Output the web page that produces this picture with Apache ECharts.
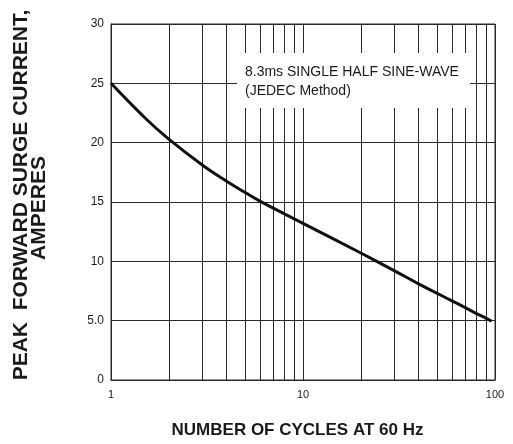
<!DOCTYPE html>
<html>
<head>
<meta charset="utf-8">
<script src="https://cdn.jsdelivr.net/npm/echarts@6/dist/echarts.min.js"></script>
<style>
html,body{margin:0;padding:0;background:#fff;}
#c{width:513px;height:444px;}
</style>
</head>
<body>
<div id="c"></div>
<script>
// Data
var cycles  = [1, 1.5, 2, 3, 4, 5, 6, 8, 10, 20, 30, 40, 50, 60, 70, 80, 90, 96];
var current = [25.0, 22.1, 20.3, 18.1, 16.75, 15.8, 15.05, 14.0, 13.2, 10.7, 9.2, 8.1, 7.3, 6.65, 6.1, 5.6, 5.2, 4.95];
var minorGridX = [2, 3, 4, 5, 6, 7, 8, 9, 20, 30, 40, 50, 60, 70, 80, 90];
var yTicks = [0, 5, 10, 15, 20, 25, 30];
var yTickLabels = ['0', '5.0', '10', '15', '20', '25', '30'];
var xTickLabels = {1: '1', 10: '10', 100: '100'};
var xTitle = 'NUMBER OF CYCLES AT 60 Hz';
var yTitle1 = 'PEAK  FORWARD SURGE CURRENT,';
var yTitle2 = 'AMPERES';
var noteLines = ['8.3ms SINGLE HALF SINE-WAVE', '(JEDEC Method)'];

var FONT = '"Liberation Sans", Arial, Helvetica, sans-serif';
var INK = '#1a1a1a';
var GRID = '#2a2a2a';

var chart = echarts.init(document.getElementById('c'), null, {renderer: 'canvas'});
chart.setOption({
  animation: false,
  backgroundColor: '#fff',
  grid: {left: 111, right: 18, top: 24, bottom: 64, show: true, borderColor: GRID, borderWidth: 1, backgroundColor: 'transparent'},
  xAxis: {
    type: 'log', logBase: 10, min: 1, max: 100,
    axisLine: {show: true, lineStyle: {color: GRID, width: 1}},
    axisTick: {show: false},
    axisLabel: {color: INK, fontSize: 11, fontFamily: FONT, margin: 9,
      formatter: function (v) { return xTickLabels[Math.round(v)] || ''; }},
    splitLine: {show: true, lineStyle: {color: GRID, width: 1}}
  },
  yAxis: {
    type: 'value', min: 0, max: 30, interval: 5,
    axisLine: {show: true, lineStyle: {color: GRID, width: 1}},
    axisTick: {show: false},
    axisLabel: {color: INK, fontSize: 12, fontFamily: FONT, margin: 7,
      formatter: function (v) { var i = yTicks.indexOf(v); return i >= 0 ? yTickLabels[i] : ''; }},
    splitLine: {show: true, lineStyle: {color: GRID, width: 1}}
  },
  series: [
    {
      type: 'line', data: [], z: 1, silent: true,
      markLine: {
        silent: true, symbol: ['none', 'none'], animation: false,
        label: {show: false},
        lineStyle: {color: GRID, width: 1, type: 'solid'},
        emphasis: {disabled: true},
        data: minorGridX.map(function (v) { return {xAxis: v}; })
      }
    },
    {
      type: 'line', z: 5,
      data: cycles.map(function (c, i) { return [c, current[i]]; }),
      smooth: 0.4, showSymbol: false, symbol: 'none',
      lineStyle: {color: '#111', width: 3}
    }
  ],
  graphic: [
    {type: 'rect', z: 200, shape: {x: 237, y: 53, width: 233, height: 55}, style: {fill: '#ffffff', stroke: null}},
    {type: 'text', z: 201, x: 245, y: 72.5, style: {text: noteLines[0], font: '14px ' + FONT, fill: INK, textAlign: 'left', textVerticalAlign: 'middle'}},
    {type: 'text', z: 201, x: 245, y: 91, style: {text: noteLines[1], font: '14px ' + FONT, fill: INK, textAlign: 'left', textVerticalAlign: 'middle'}},
    {type: 'text', x: 21.5, y: 195, rotation: Math.PI / 2, z: 100,
      style: {text: yTitle1, font: 'bold 21px ' + FONT, fill: INK, textAlign: 'center', textVerticalAlign: 'middle'}},
    {type: 'text', x: 39.5, y: 208, rotation: Math.PI / 2, z: 100,
      style: {text: yTitle2, font: 'bold 21px ' + FONT, fill: INK, textAlign: 'center', textVerticalAlign: 'middle'}},
    {type: 'text', x: 297.5, y: 430.5, z: 100,
      style: {text: xTitle, font: 'bold 17px ' + FONT, fill: INK, textAlign: 'center', textVerticalAlign: 'middle'}}
  ]
});
</script>
</body>
</html>
